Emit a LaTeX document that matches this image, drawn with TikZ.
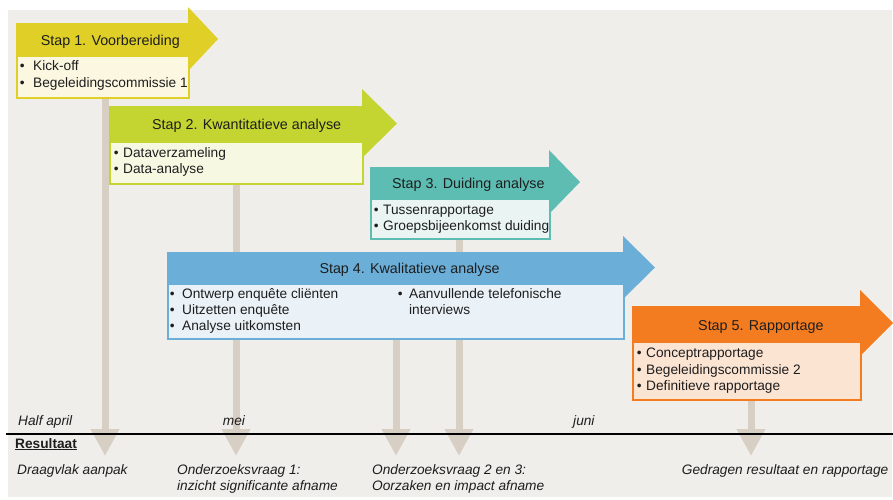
\documentclass[tikz,border=0pt]{standalone}
\usepackage{fontspec}
\setmainfont{Liberation Sans}
\usetikzlibrary{arrows.meta}
\definecolor{bgc}{HTML}{F0EEEA}
\definecolor{c1}{HTML}{DFCF26}\definecolor{c1l}{HTML}{FBF7E1}
\definecolor{c2}{HTML}{C4D531}\definecolor{c2l}{HTML}{F6F8E2}
\definecolor{c3}{HTML}{5DBDB3}\definecolor{c3l}{HTML}{EAF4F2}
\definecolor{c4}{HTML}{6BAED8}\definecolor{c4l}{HTML}{EAF1F7}
\definecolor{c5}{HTML}{F47C20}\definecolor{c5l}{HTML}{FCE4D3}
\definecolor{taupe}{HTML}{D8CFC4}
\definecolor{txt}{HTML}{1E1E1E}
\pgfdeclarelayer{bg}\pgfdeclarelayer{conn}\pgfsetlayers{bg,conn,main}
\newcommand\bitem[2]{\makebox[#1][l]{•}#2}
\begin{document}
\begin{tikzpicture}[x=1pt,y=-1pt,
  hdr/.style={anchor=base west, inner sep=0pt, text=txt, font=\fontsize{14.3}{17}\selectfont},
  itm/.style={anchor=base west, inner sep=0pt, text=txt, font=\fontsize{13.7}{16}\selectfont},
  lbl/.style={anchor=base west, inner sep=0pt, text=txt, font=\fontsize{13.7}{16}\selectfont\itshape},
  cbox/.style={rectangle, anchor=north west, inner sep=0pt, line width=2pt},
  res/.style={line width=7pt, draw=taupe, -{Triangle[width=27pt,length=27pt]}},
  tline/.style={line width=1.8pt, draw=black}]
\useasboundingbox (0,0) rectangle (893,499);
\begin{pgfonlayer}{bg}
  \fill[bgc] (8,10) rectangle (892,497);
\end{pgfonlayer}

% Step 1
\fill[c1] (16,23) -- (188,23) -- (188,7) -- (218,39) -- (188,71) -- (188,55) -- (16,55) -- cycle;
\node[cbox, draw=c1, fill=c1l, minimum width=172pt, minimum height=42pt] (box1) at (16,55) {};
\node[hdr] (h1) at (40.7,45) {Stap 1. Voorbereiding};
\node[itm] (i1a) at (19.6,70) {\bitem{13.4pt}{Kick-off}};
\node[itm] (i1b) at (19.6,87) {\bitem{13.4pt}{Begeleidingscommissie 1}};

% Step 2
\fill[c2] (109,106) -- (362,106) -- (362,89) -- (397,123.5) -- (362,158) -- (362,141) -- (109,141) -- cycle;
\node[cbox, draw=c2, fill=c2l, minimum width=253pt, minimum height=42pt] (box2) at (109,141) {};
\node[hdr] (h2) at (152,129.5) {Stap 2. Kwantitatieve analyse};
\node[itm] (i2a) at (113.6,157) {\bitem{9.4pt}{Dataverzameling}};
\node[itm] (i2b) at (113.6,173) {\bitem{9.4pt}{Data-analyse}};

% Step 3
\fill[c3] (370,167) -- (549,167) -- (549,150) -- (580,182) -- (549,214) -- (549,198) -- (370,198) -- cycle;
\node[cbox, draw=c3, fill=c3l, minimum width=179pt, minimum height=40pt] (box3) at (370,198) {};
\node[hdr] (h3) at (392,188.3) {Stap 3. Duiding analyse};
\node[itm] (i3a) at (373.6,214) {\bitem{9.4pt}{Tussenrapportage}};
\node[itm] (i3b) at (373.6,230) {\bitem{9.4pt}{Groepsbijeenkomst duiding}};

% Step 4
\fill[c4] (167,252) -- (623,252) -- (623,236) -- (655,267.5) -- (623,299) -- (623,283) -- (167,283) -- cycle;
\node[cbox, draw=c4, fill=c4l, minimum width=456pt, minimum height=55pt] (box4) at (167,283) {};
\node[hdr] (h4) at (319.3,273.3) {Stap 4. Kwalitatieve analyse};
\node[itm] (i4a) at (169.6,298.3) {\bitem{12.4pt}{Ontwerp enquête cliënten}};
\node[itm] (i4b) at (169.6,314.4) {\bitem{12.4pt}{Uitzetten enquête}};
\node[itm] (i4c) at (169.6,330.5) {\bitem{12.4pt}{Analyse uitkomsten}};
\node[itm] (i4d) at (397.6,298.3) {\bitem{11.4pt}{Aanvullende telefonische}};
\node[itm] (i4e) at (409,314.4) {interviews};

% Step 5
\fill[c5] (632,306) -- (860,306) -- (860,290) -- (893,323) -- (860,356) -- (860,341) -- (632,341) -- cycle;
\node[cbox, draw=c5, fill=c5l, minimum width=228pt, minimum height=58pt] (box5) at (632,341) {};
\node[hdr] (h5) at (698,330) {Stap 5. Rapportage};
\node[itm] (i5a) at (636.6,357.3) {\bitem{9.4pt}{Conceptrapportage}};
\node[itm] (i5b) at (636.6,374) {\bitem{9.4pt}{Begeleidingscommissie 2}};
\node[itm] (i5c) at (636.6,390.7) {\bitem{9.4pt}{Definitieve rapportage}};

% result arrows
\coordinate (r1) at (105,456);
\coordinate (r2) at (236,456);
\coordinate (r4) at (396,456);
\coordinate (r3) at (459,456);
\coordinate (r5) at (751,456);
\begin{pgfonlayer}{conn}
  \draw[res] (r1 |- box1.south) -- (r1);
  \draw[res] (r2 |- box2.south) -- (r2);
  \draw[res] (r3 |- box3.south) -- (r3);
  \draw[res] (r4 |- box4.south) -- (r4);
  \draw[res] (r5 |- box5.south) -- (r5);
\end{pgfonlayer}

% timeline
\coordinate (tl) at (6,434);
\coordinate (tr) at (893,434);
\draw[tline] (tl) -- (tr);
\node[lbl] (t1) at (18,425) {Half april};
\node[lbl] (t2) at (222.7,425) {mei};
\node[lbl] (t3) at (573,425) {juni};
\node[itm, font=\fontsize{13.7}{16}\selectfont\bfseries] (res) at (15,448) {\underline{Resultaat}};

\node[lbl] (o1) at (17,474) {Draagvlak aanpak};
\node[lbl] (o2a) at (177,474) {Onderzoeksvraag 1:};
\node[lbl] (o2b) at (177,490) {inzicht significante afname};
\node[lbl] (o3a) at (372,474) {Onderzoeksvraag 2 en 3:};
\node[lbl] (o3b) at (372,490) {Oorzaken en impact afname};
\node[lbl] (o5) at (681.7,474) {Gedragen resultaat en rapportage};
\end{tikzpicture}
\end{document}
